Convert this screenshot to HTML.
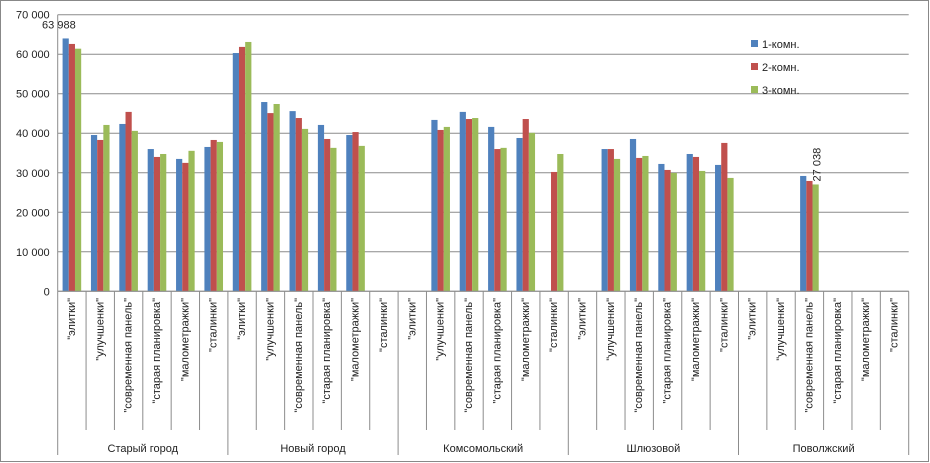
<!DOCTYPE html>
<html><head><meta charset="utf-8"><style>
body{margin:0;background:#fff}
svg{display:block;font-family:"Liberation Sans","DejaVu Sans",sans-serif}
</style></head><body>
<svg id="chart" width="930" height="463" viewBox="0 0 930 463">
<rect x="0.5" y="0.5" width="928" height="461" fill="#fff" stroke="#888"/>
<g id="grid"></g><g id="bars"></g><g id="xaxis"></g><g id="yaxis"></g>
<g>
<rect x="751" y="40" width="7" height="7" fill="#4f81bd"/>
<text x="762" y="48" font-size="11" fill="#222">1-комн.</text>
<rect x="751" y="63" width="7" height="7" fill="#c0504d"/>
<text x="762" y="71" font-size="11" fill="#222">2-комн.</text>
<rect x="751" y="86" width="7" height="7" fill="#9bbb59"/>
<text x="762" y="94" font-size="11" fill="#222">3-комн.</text>
</g>
</svg>
<script>
const groups=["Старый город","Новый город","Комсомольский","Шлюзовой","Поволжский"];
const types=["\"элитки\"","\"улучшенки\"","\"современная  панель\"","\"старая планировка\"","\"малометражки\"","\"сталинки\""];
const s1=[63988,39550,42350,36000,33500,36530, 60300,47900,45600,42100,39550,null, null,43370,45400,41600,38800,null, null,36000,38550,32230,34750,31980, null,null,29190,null,null,null];
const s2=[62600,38300,45400,34000,32500,38300, 61850,45100,43850,38550,40300,null, null,40830,43600,36000,43600,30200, null,36000,33750,30710,34000,37550, null,null,27920,null,null,null];
const s3=[61400,42100,40600,34750,35550,37800, 63100,47400,41100,36300,36800,null, null,41600,43850,36300,40100,34750, null,33500,34250,29950,30460,28690, null,null,27038,null,null,null];
const yTicks=[0,10000,20000,20000,30000,40000,50000,60000,70000].filter((v,i,a)=>a.indexOf(v)===i);
const yTickLabels=["0","10 000","20 000","30 000","40 000","50 000","60 000","70 000"];
const series=[s1,s2,s3], colors=["#4f81bd","#c0504d","#9bbb59"];
const X0=57.7,X1=908.7,Y0=291.3,YT=14.7,YMAX=70000;
const n=groups.length*types.length, cw=(X1-X0)/n;
const y=v=>Y0-(v/YMAX)*(Y0-YT);
const xc=i=>X0+cw*(i+0.5);
const NS="http://www.w3.org/2000/svg";
function mk(parent,tag,attrs){const e=document.createElementNS(NS,tag);for(const k in attrs)e.setAttribute(k,attrs[k]);document.getElementById(parent).appendChild(e);return e;}
yTicks.forEach((v,i)=>{
 const g=mk("grid","line",{x1:X0,x2:X1,y1:y(v),y2:y(v),stroke:"#8c8c8c","stroke-width":1});
 
 
 const t=mk("yaxis","text",{x:X0-8,y:y(v)+4,"text-anchor":"end","font-size":11,fill:"#222"});
 t.textContent=yTickLabels[i];
 
 
});
const ax=mk("yaxis","line",{x1:X0,x2:X0,y1:YT,y2:Y0,stroke:"#8c8c8c"});


const bw=6.2;
for(let i=0;i<n;i++){
 series.forEach((s,k)=>{
  const v=s[i]; if(v==null) return;
  const r=mk("bars","rect",{x:xc(i)-1.5*bw+k*bw,y:y(v),width:bw,height:Y0-y(v),fill:colors[k]});
  
  
 });
 const t=mk("xaxis","text",{transform:`translate(${xc(i)+3},298) rotate(-90)`,"text-anchor":"end","font-size":11,fill:"#222"});
 t.textContent=types[i%types.length];
 
 
}
for(let i=0;i<=n;i++){
 const x=X0+cw*i, grp=i%types.length===0;
 const l=mk("xaxis","line",{x1:x,x2:x,y1:Y0,y2:grp?455:430,stroke:"#8c8c8c"});
 
 
}
groups.forEach((g,j)=>{
 const t=mk("xaxis","text",{x:X0+cw*types.length*(j+0.5),y:452,"text-anchor":"middle","font-size":11,fill:"#222"});
 t.textContent=g;
 
 
});
const bl=mk("xaxis","line",{x1:X0,x2:X1,y1:Y0,y2:Y0,stroke:"#8c8c8c"});


const d1=mk("bars","text",{x:xc(0)-13,y:y(s1[0])-10,"text-anchor":"middle","font-size":11,fill:"#222"});
d1.textContent="63 988";


const d2=mk("bars","text",{transform:`translate(${xc(26)+bw*1.5+2},${y(s3[26])-3}) rotate(-90)`,"font-size":11,fill:"#222"});
d2.textContent="27 038";


</script>
</body></html>
